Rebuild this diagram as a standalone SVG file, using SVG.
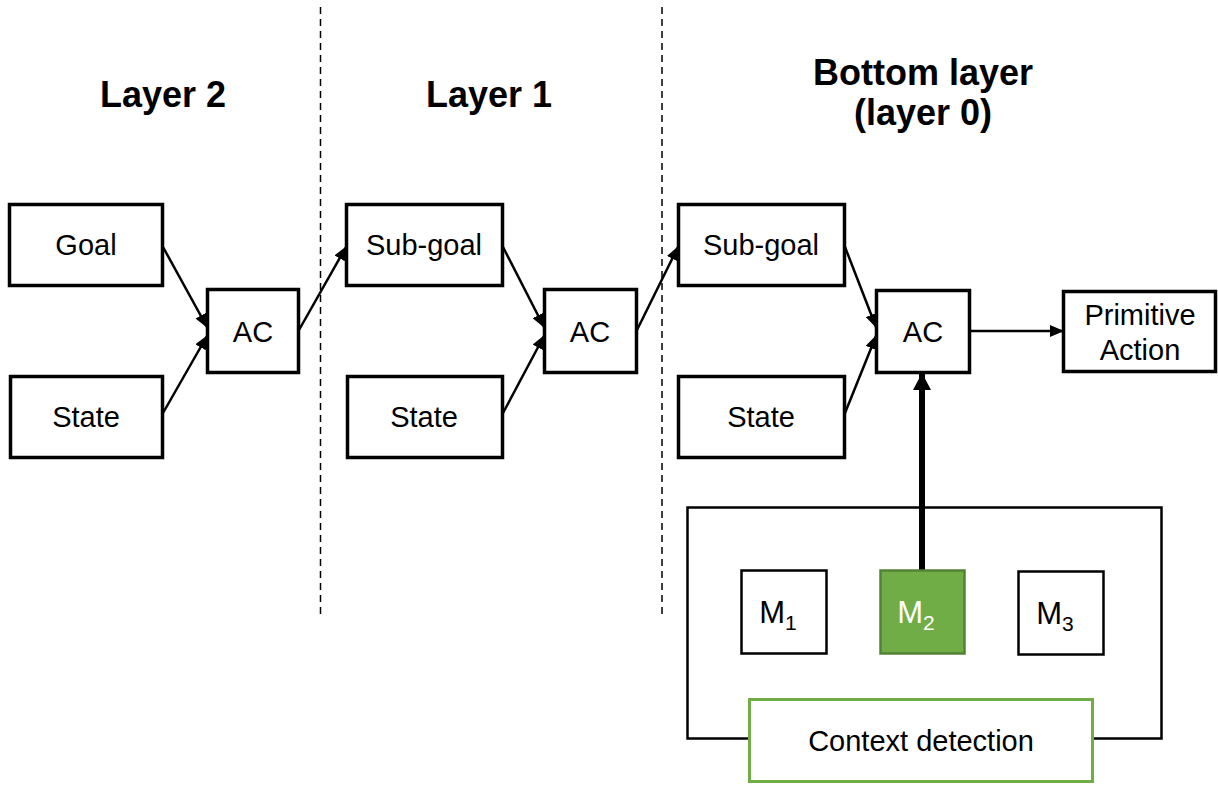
<svg xmlns="http://www.w3.org/2000/svg" width="1218" height="785" viewBox="0 0 1218 785">
  <style>
    .box { fill: #ffffff; stroke: #000000; stroke-width: 3.5; }
    .mbox { fill: #ffffff; stroke: #000000; stroke-width: 2.5; }
    .lbl { font-family: "Liberation Sans", Arial, sans-serif; font-size: 29px; fill: #000000; text-anchor: middle; }
    .mlbl { font-family: "Liberation Sans", Arial, sans-serif; font-size: 31px; fill: #000000; text-anchor: middle; }
    .head { font-family: "Liberation Sans", Arial, sans-serif; font-size: 36px; font-weight: bold; fill: #000000; text-anchor: middle; }
    .edge { stroke: #000000; stroke-width: 2.5; fill: none; marker-end: url(#arrow); }
    .sep { stroke: #000000; stroke-width: 1.5; stroke-dasharray: 7 5; }
  </style>
  <defs>
    <marker id="arrow" viewBox="0 0 14 12" refX="13" refY="6" markerWidth="14" markerHeight="12" markerUnits="userSpaceOnUse" orient="auto">
      <path d="M0,0 L14,6 L0,12 Z" fill="#000000"/>
    </marker>
    <marker id="arrowBig" viewBox="0 0 17 18" refX="16" refY="9" markerWidth="17" markerHeight="18" markerUnits="userSpaceOnUse" orient="auto">
      <path d="M0,0 L17,9 L0,18 Z" fill="#000000"/>
    </marker>
  </defs>

  <!-- layer separators -->
  <g id="separators">
    <line class="sep" x1="320.5" y1="7" x2="320.5" y2="617"/>
    <line class="sep" x1="662" y1="7" x2="662" y2="617"/>
  </g>

  <!-- column headings -->
  <g id="headings">
    <text class="head" x="163" y="107">Layer 2</text>
    <text class="head" x="489" y="107">Layer 1</text>
    <text class="head" x="923" y="85">Bottom layer</text>
    <text class="head" x="923" y="125">(layer 0)</text>
  </g>

  <!-- connectors -->
  <g id="connectors">
    <line class="edge" x1="163" y1="247" x2="207" y2="327"/>
    <line class="edge" x1="163" y1="413" x2="207" y2="336"/>
    <line class="edge" x1="299" y1="330" x2="346" y2="247"/>
    <line class="edge" x1="503" y1="247" x2="544" y2="327"/>
    <line class="edge" x1="503" y1="413" x2="544" y2="336"/>
    <line class="edge" x1="637" y1="330" x2="678" y2="247"/>
    <line class="edge" x1="845" y1="247" x2="876" y2="327"/>
    <line class="edge" x1="845" y1="413" x2="876" y2="336"/>
    <line class="edge" x1="970" y1="331" x2="1063" y2="331"/>
    <line x1="922" y1="570" x2="922" y2="374" stroke="#000000" stroke-width="6" marker-end="url(#arrowBig)"/>
  </g>

  <!-- layer 2 -->
  <g id="goal">
    <rect class="box" x="9.5" y="204.5" width="153" height="81"/>
    <text class="lbl" x="86" y="255">Goal</text>
  </g>
  <g id="state2">
    <rect class="box" x="10.5" y="376.5" width="152" height="81"/>
    <text class="lbl" x="86" y="427">State</text>
  </g>
  <g id="ac2">
    <rect class="box" x="207.5" y="289.5" width="91" height="83"/>
    <text class="lbl" x="253" y="342">AC</text>
  </g>

  <!-- layer 1 -->
  <g id="subgoal1">
    <rect class="box" x="346.5" y="204.5" width="156" height="81"/>
    <text class="lbl" x="424" y="255">Sub-goal</text>
  </g>
  <g id="state1">
    <rect class="box" x="347.5" y="376.5" width="155" height="81"/>
    <text class="lbl" x="424" y="427">State</text>
  </g>
  <g id="ac1">
    <rect class="box" x="544.5" y="289.5" width="92" height="83"/>
    <text class="lbl" x="590" y="342">AC</text>
  </g>

  <!-- layer 0 -->
  <g id="subgoal0">
    <rect class="box" x="678.5" y="204.5" width="166" height="81"/>
    <text class="lbl" x="761" y="255">Sub-goal</text>
  </g>
  <g id="state0">
    <rect class="box" x="678.5" y="376.5" width="166" height="81"/>
    <text class="lbl" x="761" y="427">State</text>
  </g>
  <g id="ac0">
    <rect class="box" x="876.5" y="290.5" width="93" height="82"/>
    <text class="lbl" x="923" y="342">AC</text>
  </g>
  <g id="primitive-action">
    <rect class="box" x="1063.5" y="291.5" width="152" height="80"/>
    <text class="lbl" x="1140" y="325">Primitive</text>
    <text class="lbl" x="1140" y="360">Action</text>
  </g>

  <!-- model selection block -->
  <g id="model-frame">
    <rect x="687.5" y="507.5" width="474" height="231" fill="none" stroke="#000000" stroke-width="2.5"/>
  </g>
  <g id="m1">
    <rect class="mbox" x="741.5" y="570.5" width="85" height="83"/>
    <text class="mlbl" x="784" y="623" dx="-6">M<tspan font-size="21" dy="7">1</tspan></text>
  </g>
  <g id="m2">
    <rect x="880.5" y="570.5" width="84" height="83" fill="#70AD47" stroke="#548235" stroke-width="2.5"/>
    <text class="mlbl" x="922" y="623" dx="-6" style="fill:#ffffff">M<tspan font-size="21" dy="7">2</tspan></text>
  </g>
  <g id="m3">
    <rect class="mbox" x="1018.5" y="571.5" width="85" height="83"/>
    <text class="mlbl" x="1061" y="624" dx="-6">M<tspan font-size="21" dy="7">3</tspan></text>
  </g>
  <g id="context-detection">
    <rect x="749.5" y="699.5" width="343" height="82" fill="#ffffff" stroke="#70AD47" stroke-width="3"/>
    <text class="lbl" x="921" y="751">Context detection</text>
  </g>
</svg>
